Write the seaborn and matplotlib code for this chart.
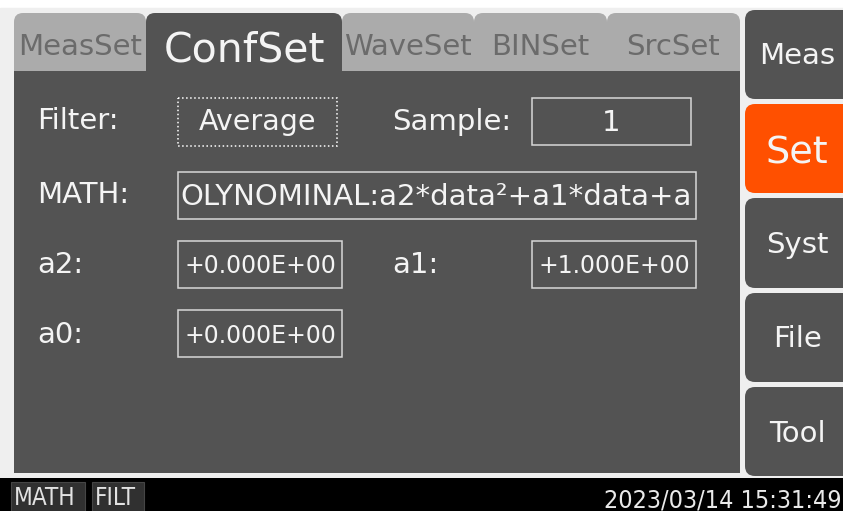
import matplotlib
matplotlib.use("Agg")
import matplotlib.pyplot as plt
from matplotlib.patches import FancyBboxPatch, Rectangle
import seaborn as sns

# ---- data (texts / values shown on the screen) ----
tab_names = ["MeasSet", "ConfSet", "WaveSet", "BINSet", "SrcSet"]
active_tab = "ConfSet"
side_buttons = ["Meas", "Set", "Syst", "File", "Tool"]
active_button = "Set"
field_labels = ["Filter:", "Sample:", "MATH:", "a2:", "a1:", "a0:"]
field_values = ["Average", "1", "OLYNOMINAL:a2*data\u00b2+a1*data+a",
                "+0.000E+00", "+1.000E+00", "+0.000E+00"]
status_flags = ["MATH", "FILT"]
timestamp = "2023/03/14 15:31:49"

# ---- style ----
sns.set_theme(style="white")
plt.rcParams["font.family"] = ["DejaVu Sans"]

DARK = "#535353"
INACT = "#ababab"
INACT_TXT = "#6b6b6b"
ORANGE = "#ff5000"
LIGHT = "#efefef"
WHITE_TXT = "#f4f4f4"
BORDER = "#d8d8d8"

W, H = 843, 511
fig = plt.figure(figsize=(W / 100, H / 100), dpi=100)
ax = fig.add_axes([0, 0, 1, 1])
ax.set_xlim(0, W)
ax.set_ylim(H, 0)
ax.axis("off")

# background
ax.add_patch(Rectangle((0, 0), W, H, color="white", zorder=0))
ax.add_patch(Rectangle((0, 8), W, 470, color=LIGHT, zorder=0))

# tabs
tab_x = [14, 146, 342, 474, 607, 740]
tab_top, tab_bot = 13, 71
for i, name in enumerate(tab_names):
    x0, x1 = tab_x[i], tab_x[i + 1]
    act = name == active_tab
    col = DARK if act else INACT
    ax.add_patch(FancyBboxPatch((x0, tab_top), x1 - x0, tab_bot - tab_top,
                                boxstyle="round,pad=0,rounding_size=9",
                                fc=col, ec="none", zorder=2))
    ax.add_patch(Rectangle((x0, tab_top + 12), x1 - x0, tab_bot - tab_top - 12,
                           fc=col, ec="none", zorder=2))
    if act:
        ax.text((x0 + x1) / 2, 62, name, color=WHITE_TXT, fontsize=29.5,
                ha="center", va="baseline", zorder=5)
    else:
        ax.text((x0 + x1) / 2, 55, name, color=INACT_TXT, fontsize=21,
                ha="center", va="baseline", zorder=5)

# main panel
ax.add_patch(Rectangle((14, 71), 726, 402, fc=DARK, ec="none", zorder=1))

# side buttons
btn_y = [(10, 99), (104, 193), (198, 288), (293, 382), (387, 476)]
btn_base = [64, 163, 253, 347, 442]
for name, (y0, y1), yb in zip(side_buttons, btn_y, btn_base):
    act = name == active_button
    ax.add_patch(FancyBboxPatch((745, y0), 120, y1 - y0,
                                boxstyle="round,pad=0,rounding_size=10",
                                fc=ORANGE if act else DARK, ec="none", zorder=2))
    ax.text(797, yb, name, color=WHITE_TXT, fontsize=27.5 if act else 21,
            ha="center", va="baseline", zorder=5)

# field labels
lab_pos = [(37, 129), (392, 130), (37, 203), (37, 273), (392, 273), (37, 343)]
for lab, (x, y) in zip(field_labels, lab_pos):
    ax.text(x, y, lab, color=WHITE_TXT, fontsize=21, ha="left", va="baseline", zorder=5)

# value boxes: (x0, x1, y0, y1, baseline, align, size, linestyle)
box_geom = [
    (178, 337, 98, 146, 130, "center", 20.5, ":"),
    (532, 691, 98, 145, 131, "center", 21, "-"),
    (178, 696, 172, 219, 205, "left", 21, "-"),
    (178, 342, 241, 288, 273, "center", 17, "-"),
    (532, 696, 241, 288, 273, "center", 17, "-"),
    (178, 342, 310, 357, 343, "center", 17, "-"),
]
for val, (x0, x1, y0, y1, yb, al, fs, ls) in zip(field_values, box_geom):
    ax.add_patch(Rectangle((x0, y0), x1 - x0, y1 - y0, fc="none",
                           ec="white" if ls == ":" else BORDER,
                           lw=1.1, ls=ls, zorder=4))
    tx = (x0 + x1) / 2 if al == "center" else x0 + 2
    ax.text(tx, yb, val, color=WHITE_TXT, fontsize=fs, ha=al, va="baseline",
            zorder=5, clip_on=True)

# status bar
ax.add_patch(Rectangle((0, 478), W, H - 478, fc="black", ec="none", zorder=2))
flag_x = [(11, 85), (92, 144)]
for flag, (x0, x1) in zip(status_flags, flag_x):
    ax.add_patch(Rectangle((x0, 482), x1 - x0, 32, fc="#303030", ec="#454545",
                           lw=0.8, zorder=3))
    ax.text(x0 + 3, 505, flag, color="#e2e2e2", fontsize=17.5,
            fontstretch="condensed", ha="left", va="baseline", zorder=5)
ax.text(842, 508, timestamp, color="#eaeaea", fontsize=18,
        fontstretch="condensed", ha="right", va="baseline", zorder=5)

fig.savefig("out.png", dpi=100)
